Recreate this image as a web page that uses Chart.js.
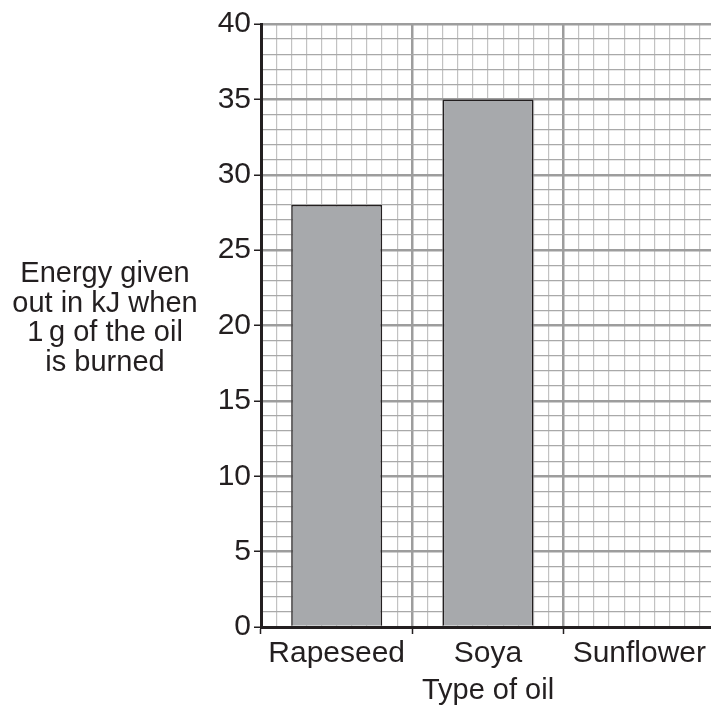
<!DOCTYPE html>
<html>
<head>
<meta charset="utf-8">
<script src="https://cdn.jsdelivr.net/npm/chart.js@4.4.0/dist/chart.umd.min.js"></script>
<style>
  html, body { margin: 0; padding: 0; background: #fff; overflow: hidden; }
  #wrap { width: 715px; height: 705px; position: relative; }
</style>
</head>
<body>
<div id="wrap"><canvas id="oilChart"></canvas></div>
<script>
// chart data
const oils = ["Rapeseed", "Soya", "Sunflower"];
const energyValues = [28, 35, null];
const yTitleLines = ["Energy given", "out in kJ when", "1\u2009g of the oil", "is burned"];
const xTitle = "Type of oil";

const FONT = "'Liberation Sans', Arial, sans-serif";

// is this grid line a major one?
function isMajor(c, every) {
  return c.tick && c.tick.value % every === 0;
}

// horizontal y axis title, drawn on the left side
const sideTitle = {
  id: "sideTitle",
  afterDraw(chart) {
    const ctx = chart.ctx;
    ctx.save();
    ctx.font = "29px " + FONT;
    ctx.fillStyle = "#231f20";
    ctx.textAlign = "center";
    ctx.textBaseline = "middle";
    yTitleLines.forEach((line, i) => {
      ctx.fillText(line, 105, 274 + i * 29.7);
    });
    ctx.restore();
  },
};

new Chart("oilChart", {
  type: "bar",
  data: {
    labels: oils,
    datasets: [
      {
        data: energyValues,
        backgroundColor: "#a7a9ac",
        borderColor: "#231f20",
        borderWidth: 1.5,
        barPercentage: 0.6,
        categoryPercentage: 1,
        xAxisID: "x",
        yAxisID: "y",
      },
    ],
  },
  options: {
    responsive: true,
    maintainAspectRatio: false,
    animation: false,
    layout: { padding: { top: 24, bottom: 0, left: 0, right: 0 } },
    plugins: {
      legend: { display: false },
      tooltip: { enabled: false },
    },
    scales: {
      x: {
        type: "category",
        position: "bottom",
        border: { color: "#231f20", width: 3 },
        grid: {
          offset: true,
          drawOnChartArea: false,
          tickLength: 7,
          tickColor: "#231f20",
          tickWidth: 1.5,
        },
        ticks: {
          color: "#231f20",
          font: { family: FONT, size: 30, lineHeight: 1 },
          padding: 5,
          maxRotation: 0,
        },
        title: {
          display: true,
          text: xTitle,
          color: "#231f20",
          font: { family: FONT, size: 29, lineHeight: 1 },
          padding: { top: 2, bottom: 0 },
        },
      },
      xGrid: {
        type: "linear",
        position: "top",
        min: 0,
        max: 30,
        offset: false,
        border: { display: false },
        grid: {
          offset: false,
          drawTicks: false,
          color: (c) => (isMajor(c, 10) ? "#9d9d9d" : "#c2c2c2"),
          lineWidth: (c) => (isMajor(c, 10) ? 2.5 : 1.2),
        },
        ticks: { display: false, stepSize: 1, autoSkip: false },
      },
      y: {
        min: 0,
        max: 40,
        afterFit(scale) {
          scale.width = 261;
        },
        border: { color: "#231f20", width: 3 },
        grid: {
          color: (c) => (isMajor(c, 5) ? "#9d9d9d" : "#a9a9a9"),
          lineWidth: (c) => (isMajor(c, 5) ? 2.5 : 1.2),
          tickLength: 7,
          tickColor: (c) => (isMajor(c, 5) ? "#231f20" : "rgba(0,0,0,0)"),
          tickWidth: 1.5,
        },
        ticks: {
          stepSize: 1,
          autoSkip: false,
          color: "#231f20",
          font: { family: FONT, size: 30, lineHeight: 1 },
          padding: 3,
          callback: (v) => (v % 5 === 0 ? v : ""),
        },
      },
    },
  },
  plugins: [sideTitle],
});
</script>
</body>
</html>
